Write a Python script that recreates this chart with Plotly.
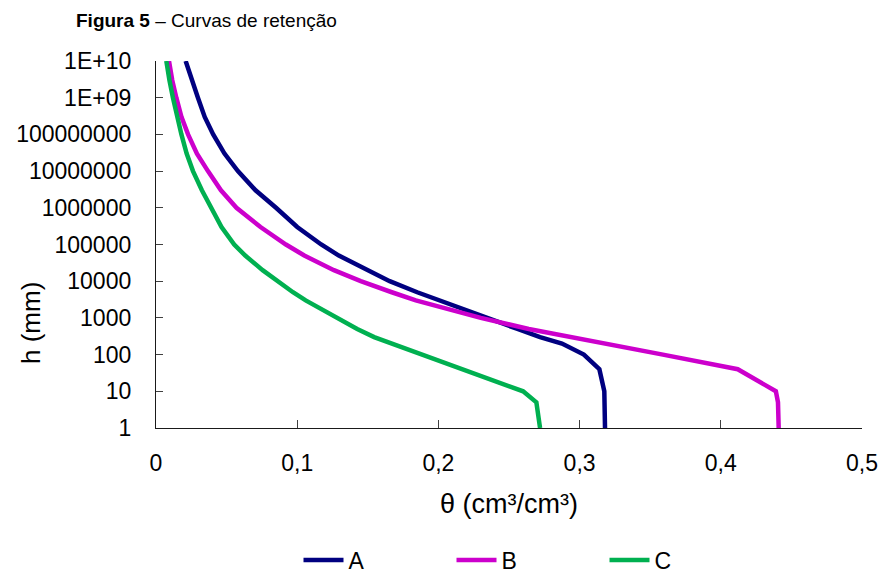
import plotly.graph_objects as go

# Suction head h (mm) at which theta was read
h_mm = [1, 5, 10, 40, 100, 200, 300, 500, 1000, 2000, 3000, 5000, 1e4, 2e4, 5e4,
        1e5, 3e5, 1e6, 3e6, 1e7, 3e7, 1e8, 3e8, 1e9, 3e9, 1e10]

theta_A = [0.318, 0.3178, 0.3175, 0.314, 0.303, 0.2875, 0.272, 0.256, 0.234, 0.213,
           0.2005, 0.185, 0.1655, 0.150, 0.1295, 0.117, 0.100, 0.085, 0.0705, 0.058,
           0.0485, 0.0405, 0.0345, 0.0297, 0.0252, 0.021]
theta_B = [0.441, 0.4405, 0.439, 0.412, 0.359, 0.319, 0.294, 0.264, 0.230, 0.200,
           0.184, 0.167, 0.145, 0.126, 0.105, 0.092, 0.074, 0.057, 0.046, 0.0368,
           0.029, 0.0227, 0.018, 0.0144, 0.0115, 0.0092]
theta_C = [0.272, 0.2694, 0.260, 0.217, 0.188, 0.1665, 0.1545, 0.1425, 0.1285, 0.1135,
           0.106, 0.097, 0.086, 0.0755, 0.0632, 0.0554, 0.0464, 0.0389, 0.0325, 0.0262,
           0.0217, 0.018, 0.0148, 0.012, 0.0095, 0.0073]

series_names = ["A", "B", "C"]
series_colors = ["#000080", "#CC00CC", "#00B050"]

y_tickvals = [1, 10, 100, 1000, 1e4, 1e5, 1e6, 1e7, 1e8, 1e9, 1e10]
y_ticktext = ["1", "10", "100", "1000", "10000", "100000", "1000000",
              "10000000", "100000000", "1E+09", "1E+10"]
x_tickvals = [0, 0.1, 0.2, 0.3, 0.4, 0.5]
x_ticktext = ["0", "0,1", "0,2", "0,3", "0,4", "0,5"]

FONT = "Liberation Sans, Arial, sans-serif"

fig = go.Figure()
for name, col, th in zip(series_names, series_colors, [theta_A, theta_B, theta_C]):
    fig.add_trace(go.Scatter(x=th, y=h_mm, mode="lines", name=name,
                             line=dict(color=col, width=4.5)))

W, H = 885, 576
ml, mr, mt, mb = 156, 23, 61, 148
PW, PH = W - ml - mr, H - mt - mb

fig.update_layout(
    width=W, height=H,
    margin=dict(l=ml, r=mr, t=mt, b=mb, autoexpand=False),
    paper_bgcolor="white", plot_bgcolor="white",
    font=dict(family=FONT, color="#000000", size=23),
    showlegend=True,
    legend=dict(orientation="h", x=(528 - ml) / PW, xanchor="center",
                y=(H - mb - 560) / PH, yanchor="middle",
                font=dict(size=23, family=FONT),
                entrywidth=98, entrywidthmode="pixels", itemwidth=40,
                bgcolor="rgba(0,0,0,0)"),
    xaxis=dict(range=[0, 0.5], tickvals=x_tickvals, ticktext=x_ticktext,
               automargin=False,
               showgrid=False, zeroline=False, showline=True, linecolor="#1a1a1a",
               linewidth=1.3, ticks="inside", ticklen=8, tickcolor="#404040",
               tickwidth=1.3, ticklabelstandoff=14,
               tickfont=dict(size=23, family=FONT),
               title=dict(text="θ (cm³/cm³)", font=dict(size=27, family=FONT), standoff=19)),
    yaxis=dict(type="log", range=[0, 10], tickvals=y_tickvals, ticktext=y_ticktext,
               automargin=False,
               showgrid=False, zeroline=False, showline=True, linecolor="#1a1a1a",
               linewidth=1.3, ticks="inside", ticklen=7, tickcolor="#404040",
               tickwidth=1.3, ticklabelstandoff=19,
               tickfont=dict(size=23, family=FONT)),
    annotations=[
        dict(text="<b>Figura 5</b> – Curvas de retenção", xref="paper", yref="paper",
             x=(74 - ml) / PW, y=1 + (mt - 20) / PH,
             xanchor="left", yanchor="middle", showarrow=False,
             font=dict(size=19, family=FONT, color="#000000")),
        dict(text="h (mm)", xref="paper", yref="paper",
             x=(31 - ml) / PW, y=(H - mb - 323) / PH,
             xanchor="center", yanchor="middle", textangle=-90, showarrow=False,
             font=dict(size=26, family=FONT, color="#000000")),
    ],
)

fig.write_html("out.html")
